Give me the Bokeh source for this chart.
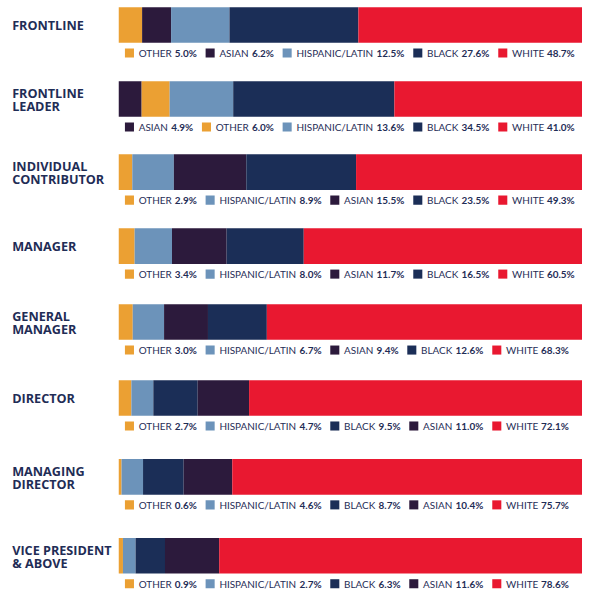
from bokeh.plotting import figure
from bokeh.models import Range1d
from bokeh.core.properties import value
from bokeh.embed import file_html
from bokeh.resources import INLINE

# ---------------- data ----------------
levels = ["FRONTLINE", "FRONTLINE\nLEADER", "INDIVIDUAL\nCONTRIBUTOR", "MANAGER",
          "GENERAL\nMANAGER", "DIRECTOR", "MANAGING\nDIRECTOR", "VICE PRESIDENT\n& ABOVE"]
categories = ["OTHER", "ASIAN", "HISPANIC/LATIN", "BLACK", "WHITE"]
other = [5.0, 6.0, 2.9, 3.4, 3.0, 2.7, 0.6, 0.9]
asian = [6.2, 4.9, 15.5, 11.7, 9.4, 11.0, 10.4, 11.6]
hispanic = [12.5, 13.6, 8.9, 8.0, 6.7, 4.7, 4.6, 2.7]
black = [27.6, 34.5, 23.5, 16.5, 12.6, 9.5, 8.7, 6.3]
white = [48.7, 41.0, 49.3, 60.5, 68.3, 72.1, 75.7, 78.6]
row_orders = [
    ["OTHER", "ASIAN", "HISPANIC/LATIN", "BLACK", "WHITE"],
    ["ASIAN", "OTHER", "HISPANIC/LATIN", "BLACK", "WHITE"],
    ["OTHER", "HISPANIC/LATIN", "ASIAN", "BLACK", "WHITE"],
    ["OTHER", "HISPANIC/LATIN", "ASIAN", "BLACK", "WHITE"],
    ["OTHER", "HISPANIC/LATIN", "ASIAN", "BLACK", "WHITE"],
    ["OTHER", "HISPANIC/LATIN", "BLACK", "ASIAN", "WHITE"],
    ["OTHER", "HISPANIC/LATIN", "BLACK", "ASIAN", "WHITE"],
    ["OTHER", "HISPANIC/LATIN", "BLACK", "ASIAN", "WHITE"],
]
series = {"OTHER": other, "ASIAN": asian, "HISPANIC/LATIN": hispanic,
          "BLACK": black, "WHITE": white}
colors = {"OTHER": "#EBA033", "ASIAN": "#2C1A3C", "HISPANIC/LATIN": "#6C93BA",
          "BLACK": "#1B2E57", "WHITE": "#E91830"}
NAVY = "#1F2D56"
LEG_FONT = "Lato"
LABEL_FONT = "Open Sans"

# ---------------- layout ----------------
# Layout is designed on a 598 x 608 canvas and scaled to the figure size.
RW, RH = 598, 608
W, H = 582, 592
S = W / RW
BX = 121.5        # canvas pixel where 0% sits
PXP = 4.8         # canvas pixels per percent
BAR_H = 36.5
ROW_TOPS = [7, 83, 158, 234, 312, 390, 471, 552]

def px2x(px):
    return (px - BX) / PXP

# approximate Lato advance widths (em)
REG = {'A': .68, 'B': .64, 'C': .66, 'D': .74, 'E': .56, 'F': .54, 'G': .71, 'H': .75,
       'I': .29, 'J': .40, 'K': .66, 'L': .49, 'M': .91, 'N': .75, 'O': .79, 'P': .60,
       'Q': .79, 'R': .62, 'S': .53, 'T': .58, 'U': .72, 'V': .68, 'W': 1.0, 'X': .65,
       'Y': .62, 'Z': .61, '/': .39, ' ': .2, '.': .23, '%': .80, '&': .70}
for d in "0123456789":
    REG[d] = .58

def tw(s, size, bold=False):
    f = 1.04 if bold else 1.0
    w = 0
    for ch in s:
        w += REG.get(ch, .6) * f
    if bold:
        w += s.count('%') * 0.05
    return w * size

p = figure(width=W, height=H, output_backend="svg", toolbar_location=None,
           x_range=Range1d(px2x(0), px2x(RW)), y_range=Range1d(RH, 0),
           min_border=0, min_border_left=0, min_border_right=0,
           min_border_top=0, min_border_bottom=0)
p.axis.visible = False
p.grid.visible = False
p.outline_line_color = None
p.background_fill_color = "white"
p.border_fill_color = "white"

bar_y, bar_l, bar_r, bar_c = [], [], [], []
sq_x, sq_y, sq_c = [], [], []
nm_x, nm_y, nm_t = [], [], []
vl_x, vl_y, vl_t = [], [], []
lb_x, lb_y, lb_t = [], [], []

LEG_SIZE = 10.2
for i, lev in enumerate(levels):
    top = ROW_TOPS[i]
    cy = top + BAR_H / 2
    cum = 0.0
    for cat in row_orders[i]:
        v = series[cat][i]
        bar_y.append(cy); bar_l.append(cum); bar_r.append(cum + v); bar_c.append(colors[cat])
        cum += v
    # labels
    lines = lev.split("\n")
    for k, ln in enumerate(lines):
        off = (k - (len(lines) - 1) / 2) * 13.5
        lb_x.append(px2x(12)); lb_y.append(cy + off + (0.5 if len(lines) > 1 else -0.5)); lb_t.append(ln)
    # legend row
    ly = top + BAR_H + 10.5
    x = 128.0
    for cat in row_orders[i]:
        v = series[cat][i]
        sq_x.append(px2x(x + 4.5)); sq_y.append(ly); sq_c.append(colors[cat])
        nx = x + 9 + 5
        nm_x.append(px2x(nx)); nm_y.append(ly); nm_t.append(cat)
        vx = nx + tw(cat, LEG_SIZE) + 3.5
        vs = f"{v:.1f}%"
        vl_x.append(px2x(vx)); vl_y.append(ly); vl_t.append(vs)
        x = vx + tw(vs, LEG_SIZE, True) + 8

leg_px = f"{LEG_SIZE * S:.2f}px"
p.hbar(y=bar_y, left=bar_l, right=bar_r, height=BAR_H, fill_color=bar_c,
       line_color=None)
p.scatter(x=sq_x, y=sq_y, marker="square", size=9.3 * S, fill_color=sq_c, line_color=None)
p.text(x=nm_x, y=nm_y, text=nm_t, text_font=value(LEG_FONT), text_font_size=leg_px,
       text_color=NAVY, text_align="left", text_baseline="middle")
p.text(x=vl_x, y=vl_y, text=vl_t, text_font=value(LEG_FONT), text_font_size=leg_px,
       text_font_style="bold", text_color=NAVY, text_align="left", text_baseline="middle")
p.text(x=lb_x, y=lb_y, text=lb_t, text_font=value(LABEL_FONT),
       text_font_size=f"{13 * S:.2f}px",
       text_font_style="bold", text_color=NAVY, text_align="left", text_baseline="middle")

open("out.html", "w").write(file_html(p, INLINE))
